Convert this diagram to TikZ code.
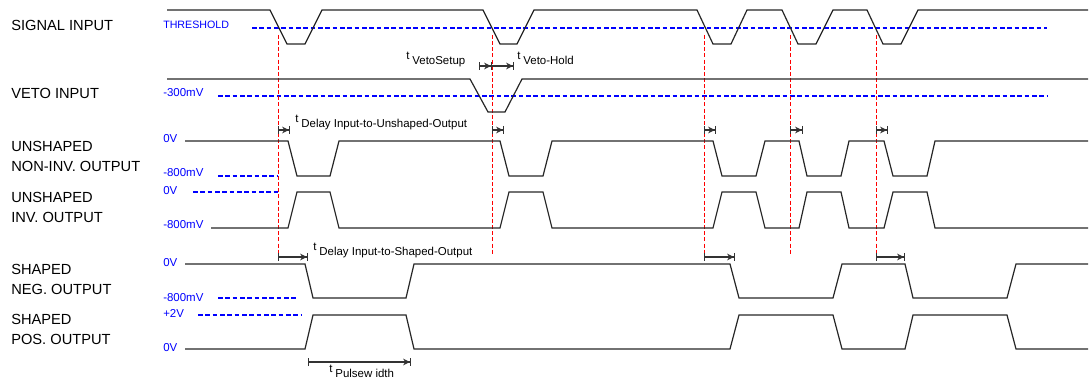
\documentclass[tikz,border=0pt]{standalone}
\usepackage{fontspec}
\setmainfont{Liberation Sans}
\usetikzlibrary{arrows.meta}
\newcommand{\tsub}[1]{t\hspace{2.2pt}\raisebox{-3.7pt}{#1}}

\begin{document}
\begin{tikzpicture}[
  x=0.75pt, y=-0.75pt,
  font=\fontsize{8.6}{10}\selectfont,
  signame/.style={anchor=west, inner sep=0pt, align=left, font=\fontsize{11}{15}\selectfont},
  lvl/.style={anchor=base west, inner sep=0pt, text=blue},
  tm/.style={anchor=base west, inner sep=0pt},
  wave/.style={line width=0.9pt, black!85, line join=miter},
  thr/.style={blue, line width=0.8pt, dash pattern=on 3.5pt off 2pt},
  trig/.style={red, line width=0.7pt, dash pattern=on 3pt off 1.6pt},
  tspan/.style={line width=0.9pt, black!80, {Bar[width=6pt,line width=0.9pt]}-{Stealth[length=5pt,width=5pt]Bar[width=6pt,line width=0.9pt]}},
]
\useasboundingbox (0,0) rectangle (1090,381);
% signal names
\node[signame] (sigin) at (11,25.5) {SIGNAL INPUT};
\node[signame] (vetoin) at (11,93.5) {VETO INPUT};
\node[signame] (unsni) at (11,156.5) {UNSHAPED\\NON-INV. OUTPUT};
\node[signame] (unsinv) at (11,207) {UNSHAPED\\INV. OUTPUT};
\node[signame] (shneg) at (11,279) {SHAPED\\NEG. OUTPUT};
\node[signame] (shpos) at (11,329) {SHAPED\\POS. OUTPUT};
% levels
\node[lvl, font=\fontsize{8}{10}\selectfont] (thresh) at (163,29) {THRESHOLD};
\node[lvl] (veto300) at (163,97) {-300mV};
\node[lvl] (unsnihi) at (163,143) {0V};
\node[lvl] (unsnilo) at (163,177) {-800mV};
\node[lvl] (unsinvhi) at (163,195) {0V};
\node[lvl] (unsinvlo) at (163,229) {-800mV};
\node[lvl] (shneghi) at (163,267) {0V};
\node[lvl] (shneglo) at (163,301) {-800mV};
\node[lvl] (shposhi) at (163,318) {+2V};
\node[lvl] (shposlo) at (163,351) {0V};
\draw[thr] (252,28) -- (1047,28);
\draw[thr] (218,96) -- (1047,96);
\draw[thr] (218,176) -- (278,176);
\draw[thr] (193,192) -- (278,192);
\draw[thr] (218,298) -- (297,298);
\draw[thr] (198,315) -- (301,315);
% trigger edges
\draw[trig] (278,35) -- (278,254);
\draw[trig] (492,35) -- (492,254);
\draw[trig] (704,35) -- (704,254);
\draw[trig] (790,35) -- (790,254);
\draw[trig] (876,35) -- (876,254);
% waveforms
\draw[wave] (167,10) -- (270,10) -- (287,44) -- (305,44) -- (322,10) -- (483,10) -- (500,44) -- (517,44) -- (534,10)
  -- (697,10) -- (713,44) -- (731,44) -- (747,10) -- (782,10) -- (798,44) -- (816,44) -- (833,10)
  -- (867,10) -- (883,44) -- (901,44) -- (918,10) -- (1088,10);
\draw[wave] (167,79) -- (470,79) -- (488,112) -- (505,112) -- (522,79) -- (1088,79);
\draw[wave] (185,141) -- (288,141) -- (297,176) -- (330,176) -- (339,141) -- (500,141) -- (509,176) -- (543,176) -- (552,141)
  -- (713,141) -- (722,176) -- (756,176) -- (765,141) -- (799,141) -- (807,176) -- (841,176) -- (849,141)
  -- (884,141) -- (893,176) -- (927,176) -- (935,141) -- (1088,141);
\draw[wave] (211,228) -- (288,228) -- (297,192) -- (330,192) -- (339,228) -- (500,228) -- (509,192) -- (543,192) -- (552,228)
  -- (713,228) -- (722,192) -- (756,192) -- (765,228) -- (799,228) -- (807,192) -- (841,192) -- (849,228)
  -- (884,228) -- (893,192) -- (927,192) -- (935,228) -- (1088,228);
\draw[wave] (185,264) -- (305,264) -- (313,298) -- (406,298) -- (414,264) -- (730,264) -- (739,298) -- (833,298) -- (842,264)
  -- (905,264) -- (913,298) -- (1007,298) -- (1016,264) -- (1088,264);
\draw[wave] (185,349) -- (305,349) -- (313,315) -- (406,315) -- (414,349) -- (730,349) -- (739,315) -- (833,315) -- (842,349)
  -- (905,349) -- (913,315) -- (1007,315) -- (1016,349) -- (1088,349);
% timing
\node[tm] (setup) at (406,60) {\tsub{VetoSetup}};
\node[tm] (hold) at (517,60) {\tsub{Veto-Hold}};
\node[tm] (dlyuns) at (295,123) {\tsub{Delay Input-to-Unshaped-Output}};
\node[tm] (dlysh) at (313,251) {\tsub{Delay Input-to-Shaped-Output}};
\node[tm] (pw) at (329,373) {\tsub{Pulsew idth}};
\draw[tspan] (479,66) -- (492,66);
\draw[tspan, -{Stealth[length=5pt,width=5pt]Bar[width=6pt,line width=0.9pt]}] (492,66) -- (514,66);
\draw[tspan] (278,130) -- (290,130);
\draw[tspan] (492,130) -- (504,130);
\draw[tspan] (704,130) -- (716,130);
\draw[tspan] (790,130) -- (803,130);
\draw[tspan] (876,130) -- (888,130);
\draw[tspan] (278,257) -- (308,257);
\draw[tspan] (704,257) -- (735,257);
\draw[tspan] (876,257) -- (905,257);
\draw[tspan] (308,362) -- (411,362);
\end{tikzpicture}
\end{document}
